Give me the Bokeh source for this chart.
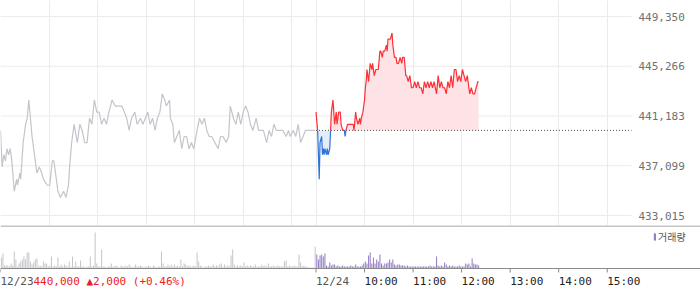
import numpy as np
from bokeh.plotting import figure
from bokeh.layouts import column
from bokeh.models import Range1d, FixedTicker, Span, Legend, LegendItem
from bokeh.core.properties import value
from bokeh.embed import file_html
from bokeh.resources import INLINE

# ---------------- data ----------------
BASE = 440000                      # 12/23 close (previous close)
DATE_LABEL = "12/23"
INFO_TEXT = "440,000 ▲2,000 (+0.46%)"
Y_TICKS = [433015, 437099, 441183, 445266, 449350]
SESSION_MIN = 390                  # minutes per session (09:00-15:30)

# 12/23 session: minutes after 09:00, price
PREV_T = [0, 2, 4, 6, 8, 10, 12, 14, 17, 20, 21, 24, 25, 28, 31, 33, 35, 37, 39, 41,
          43, 45, 48, 51, 53, 58, 61, 64, 66, 68, 71, 74, 78, 81, 84, 86, 88, 91, 95, 98,
          101, 104, 107, 110, 113, 116, 119, 122, 125, 128, 131, 134, 138, 142, 146, 150, 153, 156, 159, 162,
          166, 169, 173, 176, 179, 182, 185, 188, 191, 194, 197, 200, 203, 205, 209, 210, 213, 215, 218, 221,
          224, 227, 230, 233, 236, 239, 243, 246, 249, 252, 255, 258, 261, 265, 269, 272, 275, 279, 282, 284,
          288, 291, 294, 297, 300, 303, 306, 309, 312, 316, 319, 321, 325, 329, 332, 335, 338, 341, 349, 353,
          356, 358, 362, 365, 368, 371, 374, 377, 389]
PREV_P = [440000, 437000, 438000, 437500, 438500, 438000, 438500, 437500, 435000, 436000,
          435500, 436500, 436000, 439000, 440500, 441000, 442500, 441000, 439500, 438500,
          437500, 436500, 437000, 436500, 436000, 435500, 435500, 437500, 437500, 436500,
          435000, 434500, 435000, 434500, 435500, 437500, 439000, 440500, 439000, 440500,
          440000, 439000, 439000, 441000, 440500, 442500, 441500, 441500, 440500, 441000,
          440500, 441500, 442500, 442000, 442000, 442000, 441500, 441000, 440000, 441000,
          441500, 440500, 441000, 440500, 441000, 441500, 440500, 441000, 440000, 441000,
          441500, 443000, 442500, 442000, 442500, 441000, 440500, 439000, 439500, 440000,
          438500, 439500, 439500, 438500, 439000, 438500, 440000, 441000, 440500, 441000,
          440000, 439500, 439500, 439000, 438500, 439500, 439500, 439000, 439500, 442000,
          441000, 440500, 441500, 440500, 441500, 442000, 441500, 440500, 440000, 441000,
          440000, 440000, 440000, 439000, 440000, 439500, 440500, 440000, 440000, 439500,
          440000, 439500, 440000, 439500, 440500, 439000, 439500, 440000, 440000]

# 12/24 session: minutes after 09:00, price
TODAY_T = [0, 2, 4, 5, 7, 8, 9, 10, 11, 13, 14, 15, 17, 18, 19, 20, 21, 22, 23, 25,
           26, 28, 30, 31, 33, 35, 36, 37, 39, 40, 42, 44, 46, 47, 49, 50, 52, 54, 55, 56,
           58, 60, 61, 62, 63, 65, 67, 69, 70, 72, 74, 77, 79, 80, 82, 83, 85, 87, 88, 89,
           92, 94, 95, 97, 99, 100, 102, 104, 106, 107, 109, 111, 112, 114, 116, 118, 120, 122, 124, 126,
           128, 130, 132, 134, 136, 138, 140, 142, 144, 146, 149, 151, 153, 155, 157, 159, 161, 163, 165, 167,
           169, 171, 173, 175, 177, 179, 181, 183, 185, 187, 190, 192, 194, 196, 198, 200, 201]
TODAY_P = [441500, 440000, 436000, 439000, 439500, 438000, 438500, 438000, 438500, 438000,
           438500, 438000, 438500, 440000, 441500, 442000, 442500, 441500, 440500, 441500,
           440500, 441500, 441500, 440500, 440000, 440000, 439500, 440000, 440500, 440500,
           440500, 440500, 440500, 440000, 441500, 441000, 440500, 441000, 440500, 441000,
           441500, 442500, 443500, 444000, 445000, 444000, 445500, 445000, 445500, 444500,
           445000, 445000, 446500, 446500, 446000, 446500, 446500, 447000, 446500, 447500,
           447500, 448000, 447000, 446000, 446000, 445500, 445500, 446000, 445500, 446000,
           446000, 444500, 444500, 444000, 444500, 443500, 443500, 444000, 443500, 444000,
           443500, 443500, 443000, 444000, 443500, 444000, 443500, 444000, 443500, 444000,
           443000, 444500, 443500, 444000, 443500, 443500, 443000, 444000, 443500, 444500,
           443500, 445000, 445000, 444000, 444500, 444000, 445000, 444500, 444000, 444500,
           443000, 443500, 443000, 443000, 443500, 444000, 444000]

# volume per 2-minute bin
PREV_VOL = [11, 15, 3, 3, 3, 2, 5, 3, 17, 9, 2, 5, 7, 9, 12, 9, 16, 16, 7, 4,
            6, 9, 10, 2, 3, 2, 7, 5, 5, 2, 3, 12, 2, 3, 2, 11, 2, 4, 2, 4,
            3, 2, 7, 2, 12, 2, 7, 2, 2, 8, 2, 2, 1, 2, 2, 12, 2, 3, 36, 5,
            2, 2, 19, 2, 2, 1, 2, 2, 5, 2, 2, 3, 2, 1, 3, 2, 2, 3, 2, 4,
            2, 1, 2, 4, 2, 2, 3, 2, 1, 2, 2, 3, 2, 1, 3, 2, 1, 2, 2, 17,
            5, 2, 2, 4, 2, 4, 2, 4, 2, 3, 2, 9, 2, 5, 4, 2, 3, 2, 2, 3,
            2, 16, 7, 3, 2, 1, 2, 2, 3, 2, 2, 4, 2, 3, 2, 4, 5, 2, 4, 2,
            3, 2, 13, 19, 4, 2, 3, 2, 3, 2, 6, 2, 3, 2, 3, 2, 2, 4, 2, 2,
            2, 4, 2, 3, 2, 5, 2, 2, 3, 2, 2, 3, 2, 2, 2, 7, 8, 2, 3, 2,
            2, 3, 2, 2, 14, 6, 2, 3, 2, 2, 1, 1, 1, 1, 22]
TODAY_VOL = [14, 9, 13, 14, 12, 15, 3, 2, 6, 3, 4, 4, 2, 3, 2, 2, 3, 2, 2, 2,
             2, 3, 2, 2, 4, 2, 2, 2, 3, 5, 7, 5, 13, 16, 5, 11, 5, 9, 7, 14,
             5, 3, 5, 5, 6, 9, 6, 9, 4, 3, 4, 4, 3, 3, 3, 2, 3, 2, 2, 2,
             2, 2, 2, 2, 2, 2, 2, 2, 2, 2, 3, 2, 2, 2, 12, 3, 2, 3, 2, 6,
             4, 2, 3, 2, 3, 2, 2, 2, 3, 2, 2, 2, 5, 4, 5, 2, 10, 5, 4, 4, 3]
VOL_BIN = 2

GRID_T = [0, 60, 120, 180, 240, 300, 360, 390, 450, 510, 570, 630, 690, 750]
LABEL_T = [0, 390, 450, 510, 570, 630, 690, 750]
LABELS = ["12/23", "12/24", "10:00", "11:00", "12:00", "13:00", "14:00", "15:00"]

# ---------------- styling ----------------
MONO = "DejaVu Sans Mono"
CHAR_W = 6.6
GRID_C = "#ebebeb"
GRAY_LINE = "#c4c5cb"
RED = "#ff2f36"
BLUE = "#2f72d8"
PINK_FILL = "#fde3e6"
BLUE_FILL = "#e3edfa"
VOL_GRAY = "#c6c7cc"
VOL_PURPLE = "#957fc5"
AXIS_C = "#8a8a8a"

W = 700
PLOT_W = 631                  # width of the session area in pixels
MAIN_H = 225
X_END = 2 * SESSION_MIN
X_FULL = X_END * W / PLOT_W   # x range of the whole canvas width

u = (Y_TICKS[-1] - Y_TICKS[0]) / 199.0
y_hi = Y_TICKS[-1] + 16 * u
y_lo = Y_TICKS[0] - (MAIN_H - 215) * u

p = figure(width=W, height=MAIN_H, x_range=Range1d(0, X_FULL), y_range=Range1d(y_lo, y_hi),
           x_axis_location=None, y_axis_location=None,
           output_backend="svg", toolbar_location=None,
           min_border_left=0, min_border_right=0, min_border_top=0, min_border_bottom=0)
p.outline_line_color = None
p.xgrid.ticker = FixedTicker(ticks=GRID_T)
p.xgrid.grid_line_color = GRID_C
p.ygrid.visible = False

# horizontal grid lines over the session area, with price labels at its right
p.segment(x0=[0] * len(Y_TICKS), x1=[X_END] * len(Y_TICKS), y0=Y_TICKS, y1=Y_TICKS,
          line_color=GRID_C, line_width=1)
p.text(x=[X_END] * len(Y_TICKS), y=Y_TICKS, text=[f"{t:,}" for t in Y_TICKS],
       x_offset=7, text_align="left", text_baseline="middle",
       text_font=value(MONO), text_font_size="11px", text_color="#707070")

# today's series split at the base price for colouring
t_today = np.array(TODAY_T, dtype=float) + SESSION_MIN
p_today = np.array(TODAY_P, dtype=float)
xs, ys = [t_today[0]], [p_today[0]]
for i in range(1, len(t_today)):
    a, b = p_today[i - 1], p_today[i]
    if (a - BASE) * (b - BASE) < 0:
        tc = t_today[i - 1] + (BASE - a) / (b - a) * (t_today[i] - t_today[i - 1])
        xs.append(tc)
        ys.append(BASE)
    xs.append(t_today[i])
    ys.append(b)
xs = np.array(xs)
ys = np.array(ys)
base_arr = np.full(len(xs), float(BASE))

p.varea(x=xs, y1=base_arr, y2=np.maximum(ys, BASE), fill_color=PINK_FILL)
p.varea(x=xs, y1=base_arr, y2=np.minimum(ys, BASE), fill_color=BLUE_FILL)

p.line([SESSION_MIN, X_END], [BASE, BASE], line_color="#555555", line_width=1, line_dash="1 2")

p.line(PREV_T, PREV_P, line_color=GRAY_LINE, line_width=1.2)
p.line(xs, np.where(ys >= BASE, ys, np.nan), line_color=RED, line_width=1.2)
p.line(xs, np.where(ys <= BASE, ys, np.nan), line_color=BLUE, line_width=1.2)

# ---------------- volume panel (with time axis drawn inside) ----------------
VOL_H = 43
AX_H = 21
v = figure(width=W, height=VOL_H + AX_H, x_range=Range1d(0, X_FULL), y_range=Range1d(-AX_H, VOL_H),
           x_axis_location=None, y_axis_location=None,
           output_backend="svg", toolbar_location=None,
           min_border_left=0, min_border_right=0, min_border_top=0, min_border_bottom=0)
v.outline_line_color = None
v.grid.visible = False

prev_x = np.arange(len(PREV_VOL)) * VOL_BIN + VOL_BIN / 2
today_x = np.arange(len(TODAY_VOL)) * VOL_BIN + VOL_BIN / 2 + SESSION_MIN
v.vbar(x=prev_x, top=PREV_VOL, width=1.3, fill_color=VOL_GRAY, line_color=None)
vr = v.vbar(x=today_x, top=TODAY_VOL, width=1.3, fill_color=VOL_PURPLE, line_color=None)

v.add_layout(Span(location=VOL_H - 0.5, dimension="width", line_color=AXIS_C, line_width=1))
v.add_layout(Span(location=0, dimension="width", line_color=AXIS_C, line_width=1))

# time ticks and labels
v.segment(x0=LABEL_T, x1=LABEL_T, y0=[0] * len(LABEL_T), y1=[-4] * len(LABEL_T),
          line_color=AXIS_C, line_width=1)
label_colors = ["#555555" if "/" in s else "#222222" for s in LABELS]
v.text(x=LABEL_T, y=[-13] * len(LABEL_T), text=LABELS, text_align="left", text_baseline="middle",
       text_font=value(MONO), text_font_size="11px", text_color=label_colors)
v.text(x=[LABEL_T[0]], y=[-13], text=[INFO_TEXT], x_offset=len(DATE_LABEL) * CHAR_W,
       text_align="left", text_baseline="middle",
       text_font=value(MONO), text_font_size="11px", text_color="#ee1c24")

leg = Legend(items=[LegendItem(label="거래량", renderers=[vr])], location=(653, 45),
             glyph_width=3, glyph_height=9, label_standoff=2, padding=0, spacing=0, margin=0,
             border_line_color=None, background_fill_alpha=0,
             label_text_font="Noto Sans CJK KR", label_text_font_size="10px",
             label_text_color="#555555", label_height=9)
v.add_layout(leg)

layout = column(p, v, spacing=0)
open("out.html", "w").write(file_html(layout, INLINE))
